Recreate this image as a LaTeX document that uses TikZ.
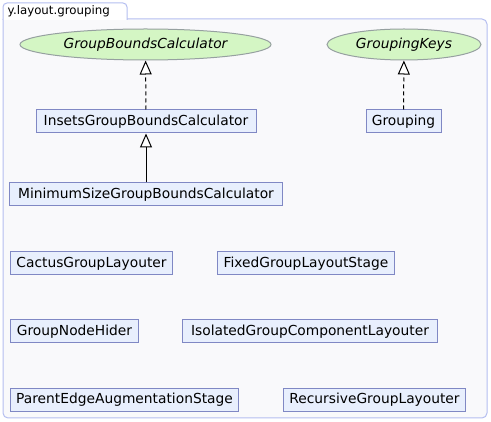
\documentclass[tikz,border=0pt]{standalone}
\usepackage{fontspec}
\setmainfont{DejaVu Sans}
\usetikzlibrary{arrows.meta, shapes.geometric}
\definecolor{PanelFill}{RGB}{249,249,251}
\definecolor{PanelLine}{RGB}{180,190,240}
\definecolor{BoxFill}{RGB}{232,239,253}
\definecolor{BoxLine}{RGB}{128,136,196}
\definecolor{IfaceFill}{RGB}{212,246,196}
\definecolor{IfaceLine}{RGB}{150,160,160}

\begin{document}
\begin{tikzpicture}[x=1pt, y=-1pt, font=\fontsize{13.8}{15}\selectfont,
	cls/.style={rectangle, draw=BoxLine, fill=BoxFill, line width=1pt, minimum height=23pt, inner sep=0pt},
	iface/.style={ellipse, draw=IfaceLine, fill=IfaceFill, line width=1pt, minimum height=31pt, inner sep=0pt,
		font=\fontsize{13.8}{15}\selectfont\itshape},
	inherits/.style={-{Triangle[length=14pt, width=12pt, fill=white]}, black, line width=1pt},
	realizes/.style={inherits, dash pattern=on 4pt off 3pt}]

	\useasboundingbox (0,0) rectangle (491,422);

	% package panel and its tab
	\draw[PanelLine, fill=PanelFill, line width=1pt, rounded corners=5pt] (3,19) -- (487,19) -- (487,418) -- (3,418) -- (3,19);
	\draw[PanelLine, fill=white, line width=1pt, rounded corners=4pt] (3,20) -- (3,3) -- (127,3) -- (127,20);
	\node[anchor=west, inner sep=0pt, font=\fontsize{11.8}{13}\selectfont] (pkg) at (7.5,11.5) {y.layout.grouping};

	% interfaces
	\node[iface, minimum width=251pt] (gbc) at (145.5,44.5) {GroupBoundsCalculator};
	\node[iface, minimum width=154pt] (gkeys) at (404,44.5) {GroupingKeys};

	% classes
	\node[cls, minimum width=220pt] (insets) at (146,121.5) {InsetsGroupBoundsCalculator};
	\node[cls, minimum width=75pt] (grouping) at (403.5,121.5) {Grouping};
	\node[cls, minimum width=273pt] (minsize) at (146,194.5) {MinimumSizeGroupBoundsCalculator};

	\foreach \n/\x/\w/\y/\t in {cactus/10/162/263.5/CactusGroupLayouter,
		fixed/217/177/263.5/FixedGroupLayoutStage,
		hider/10/128/331.5/GroupNodeHider,
		isolated/182/255/331.5/IsolatedGroupComponentLayouter,
		parent/10/228/400/ParentEdgeAugmentationStage,
		recursive/283/182/400/RecursiveGroupLayouter}
		{\node[cls, minimum width=\w pt, anchor=west] (\n) at (\x,\y) {\t};}

	% generalisations
	\draw[realizes] (insets) -- (gbc);
	\draw[realizes] (grouping) -- (gkeys);
	\draw[inherits] (minsize) -- (insets);
\end{tikzpicture}
\end{document}
